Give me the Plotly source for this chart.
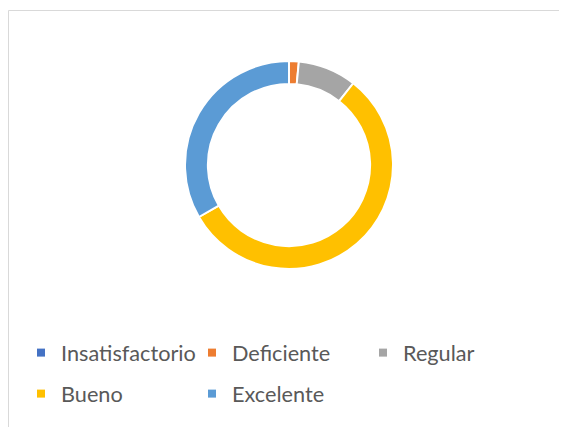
import plotly.graph_objects as go

categories = ["Insatisfactorio", "Deficiente", "Regular", "Bueno", "Excelente"]
values = [0, 1, 6, 37, 22]
colors = ["#4472C4", "#ED7D31", "#A5A5A5", "#FFC000", "#5B9BD5"]

W, H = 567, 427
OFF = 8  # page body margin

fig = go.Figure()

fig.add_trace(go.Pie(
    labels=categories, values=values, sort=False, direction="clockwise",
    rotation=0, hole=0.78, textinfo="none", hoverinfo="label+value+percent",
    marker=dict(colors=colors, line=dict(color="white", width=2)),
    domain=dict(x=[(185 - OFF) / W, (393 - OFF) / W],
                y=[1 - (269 - OFF) / H, 1 - (61 - OFF) / H]),
    showlegend=False,
))

# legend grid: (text-left x, row-center y) in reference pixels
positions = [(61, 353), (232, 353), (403, 353), (61, 394), (232, 394)]
legends = {}
for i, (cat, col, (px, py)) in enumerate(zip(categories, colors, positions)):
    key = "legend" if i == 0 else f"legend{i + 1}"
    fig.add_trace(go.Scatter(
        x=[None], y=[None], mode="markers", name=cat,
        marker=dict(symbol="square", size=8, color=col),
        legend=key,
    ))
    legends[key] = dict(
        orientation="h",
        font=dict(family="Lato, Liberation Sans, sans-serif", size=21.7, color="#595959"),
        bgcolor="rgba(0,0,0,0)", itemclick=False, itemdoubleclick=False,
        xanchor="left", yanchor="middle",
        x=(px - OFF - 40) / W, y=1 - (py - OFF) / H,
    )

fig.update_layout(
    width=W, height=H,
    margin=dict(l=0, r=0, t=0, b=0),
    paper_bgcolor="white", plot_bgcolor="white",
    xaxis=dict(visible=False), yaxis=dict(visible=False),
    shapes=[dict(type="rect", xref="paper", yref="paper",
                 x0=0.5 / W, x1=1.05, y0=-0.05, y1=1 - 2.5 / H,
                 line=dict(color="#D9D9D9", width=1), layer="below")],
    **legends,
)

fig.write_html("out.html")
